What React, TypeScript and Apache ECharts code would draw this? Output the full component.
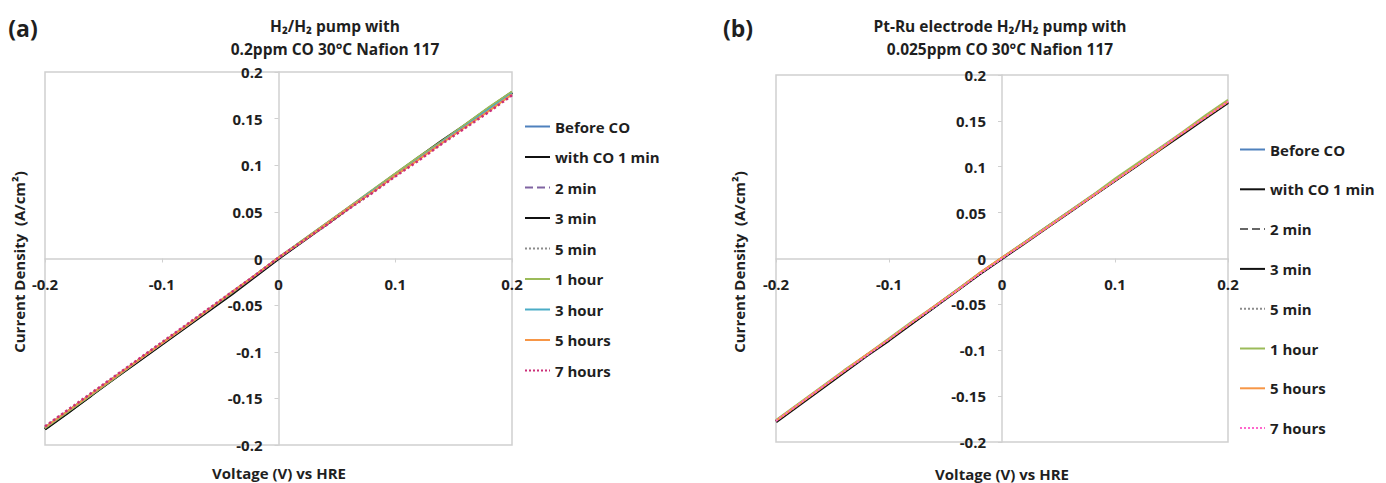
import React, { useEffect, useRef } from "react";
import * as echarts from "echarts";

// ---- Data ----
const voltages = [-0.2, -0.18, -0.16, -0.14, -0.12, -0.1, -0.08, -0.06, -0.04, -0.02, 0, 0.02, 0.04, 0.06, 0.08, 0.1, 0.12, 0.14, 0.16, 0.18, 0.2];

// Panel (a): 0.2 ppm CO
const aBefore = [-0.181, -0.163, -0.145, -0.127, -0.109, -0.091, -0.073, -0.055, -0.037, -0.019, 0.0, 0.018, 0.036, 0.054, 0.071, 0.089, 0.107, 0.124, 0.142, 0.159, 0.176];
const aCo1 = [-0.183, -0.165, -0.147, -0.128, -0.110, -0.092, -0.074, -0.056, -0.038, -0.019, 0.0, 0.018, 0.036, 0.054, 0.072, 0.090, 0.108, 0.125, 0.143, 0.161, 0.178];
const a2min = [-0.182, -0.164, -0.146, -0.128, -0.110, -0.091, -0.073, -0.055, -0.037, -0.019, 0.0, 0.018, 0.036, 0.054, 0.072, 0.090, 0.107, 0.125, 0.143, 0.160, 0.178];
const a3min = [-0.183, -0.165, -0.146, -0.128, -0.110, -0.092, -0.074, -0.056, -0.038, -0.019, 0.0, 0.018, 0.036, 0.054, 0.072, 0.090, 0.108, 0.126, 0.143, 0.161, 0.178];
const a5min = [-0.182, -0.164, -0.146, -0.127, -0.109, -0.091, -0.073, -0.055, -0.037, -0.018, 0.0, 0.018, 0.036, 0.054, 0.072, 0.089, 0.107, 0.125, 0.142, 0.160, 0.177];
const a1h = [-0.182, -0.164, -0.146, -0.128, -0.109, -0.091, -0.073, -0.055, -0.037, -0.018, 0.001, 0.019, 0.037, 0.055, 0.073, 0.091, 0.109, 0.126, 0.144, 0.162, 0.179];
const a3h = [-0.181, -0.163, -0.145, -0.127, -0.109, -0.091, -0.073, -0.055, -0.036, -0.018, 0.001, 0.018, 0.036, 0.054, 0.072, 0.089, 0.107, 0.125, 0.142, 0.160, 0.177];
const a5h = [-0.181, -0.163, -0.145, -0.127, -0.109, -0.091, -0.073, -0.055, -0.036, -0.018, 0.001, 0.018, 0.036, 0.054, 0.071, 0.089, 0.106, 0.124, 0.141, 0.158, 0.176];
const a7h = [-0.180, -0.162, -0.144, -0.126, -0.108, -0.090, -0.072, -0.054, -0.036, -0.018, 0.001, 0.018, 0.035, 0.053, 0.070, 0.088, 0.105, 0.123, 0.140, 0.157, 0.175];

// Panel (b): 0.025 ppm CO, Pt-Ru electrode
const bBefore = [-0.177, -0.159, -0.141, -0.123, -0.106, -0.088, -0.070, -0.053, -0.035, -0.017, 0.0, 0.017, 0.034, 0.051, 0.068, 0.085, 0.102, 0.120, 0.137, 0.154, 0.171];
const bCo1 = [-0.177, -0.159, -0.142, -0.124, -0.106, -0.088, -0.071, -0.053, -0.035, -0.017, 0.0, 0.017, 0.034, 0.051, 0.068, 0.085, 0.102, 0.119, 0.137, 0.154, 0.171];
const b2min = [-0.177, -0.159, -0.141, -0.123, -0.105, -0.088, -0.070, -0.052, -0.035, -0.016, 0.001, 0.017, 0.034, 0.051, 0.068, 0.085, 0.102, 0.120, 0.137, 0.154, 0.171];
const b3min = [-0.178, -0.160, -0.142, -0.124, -0.106, -0.089, -0.071, -0.053, -0.035, -0.017, 0.0, 0.017, 0.034, 0.051, 0.068, 0.085, 0.102, 0.119, 0.136, 0.153, 0.170];
const b5min = [-0.177, -0.159, -0.141, -0.123, -0.106, -0.088, -0.070, -0.053, -0.035, -0.017, 0.0, 0.017, 0.034, 0.051, 0.068, 0.085, 0.103, 0.120, 0.137, 0.154, 0.171];
const b1h = [-0.176, -0.158, -0.140, -0.122, -0.105, -0.087, -0.069, -0.052, -0.034, -0.016, 0.001, 0.018, 0.035, 0.052, 0.069, 0.087, 0.104, 0.121, 0.138, 0.156, 0.173];
const b5h = [-0.177, -0.159, -0.141, -0.123, -0.105, -0.088, -0.070, -0.052, -0.035, -0.016, 0.001, 0.017, 0.034, 0.051, 0.068, 0.085, 0.102, 0.119, 0.137, 0.154, 0.171];
const b7h = [-0.177, -0.159, -0.141, -0.123, -0.106, -0.088, -0.070, -0.053, -0.035, -0.017, 0.0, 0.017, 0.034, 0.051, 0.068, 0.085, 0.102, 0.120, 0.137, 0.154, 0.171];

const xTicks = [-0.2, -0.1, 0, 0.1, 0.2];

const FONT = "'Open Sans', 'DejaVu Sans', sans-serif";
const TXT = "#1f1f1f";
const AXIS = "#d0d0d0";

const GRID_A = { left: 45, top: 72, width: 467, height: 373 };
const GRID_B = { left: 776, top: 75, width: 452, height: 367 };

function pts(ys: number[]) {
  return voltages.map((v, i) => [v, ys[i]]);
}

type S = { name: string; data: number[]; color: string; type: string; width: number };

const seriesA: S[] = [
  { name: "Before CO", data: aBefore, color: "#4f81bd", type: "solid", width: 2 },
  { name: "with CO 1 min", data: aCo1, color: "#111111", type: "solid", width: 2 },
  { name: "2 min", data: a2min, color: "#8064a2", type: "dashed", width: 2 },
  { name: "3 min", data: a3min, color: "#111111", type: "solid", width: 3 },
  { name: "5 min", data: a5min, color: "#8c8c8c", type: "dotted", width: 1.5 },
  { name: "1 hour", data: a1h, color: "#9bbb59", type: "solid", width: 2 },
  { name: "3 hour", data: a3h, color: "#4bacc6", type: "solid", width: 2 },
  { name: "5 hours", data: a5h, color: "#f79646", type: "solid", width: 2 },
  { name: "7 hours", data: a7h, color: "#cc2f78", type: "dotted", width: 2.5 },
];

const seriesB: S[] = [
  { name: "Before CO", data: bBefore, color: "#4f81bd", type: "solid", width: 2 },
  { name: "with CO 1 min", data: bCo1, color: "#111111", type: "solid", width: 2 },
  { name: "2 min", data: b2min, color: "#666666", type: "dashed", width: 1.5 },
  { name: "3 min", data: b3min, color: "#111111", type: "solid", width: 3 },
  { name: "5 min", data: b5min, color: "#8c8c8c", type: "dotted", width: 1.5 },
  { name: "1 hour", data: b1h, color: "#9bbb59", type: "solid", width: 2 },
  { name: "5 hours", data: b5h, color: "#f79646", type: "solid", width: 2 },
  { name: "7 hours", data: b7h, color: "#ff66cc", type: "dotted", width: 2 },
];

const PREFIX_B = "(b) ";

function mkSeries(list: S[], idx: number, prefix: string) {
  return list.map((s) => ({
    type: "line",
    name: prefix + s.name,
    xAxisIndex: idx,
    yAxisIndex: idx,
    data: pts(s.data),
    showSymbol: false,
    symbol: "none",
    lineStyle: { color: s.color, type: s.type, width: s.width },
    itemStyle: { color: s.color },
    z: 3,
  }));
}

function xAxisCfg(gridIndex: number, g: { height: number }) {
  return {
    type: "value",
    gridIndex,
    position: "bottom",
    offset: -g.height / 2,
    min: -0.2,
    max: 0.2,
    interval: 0.1,
    axisLine: { onZero: false, lineStyle: { color: AXIS, width: 1.5 } },
    axisTick: { show: true, length: 4, lineStyle: { color: AXIS } },
    axisLabel: {
      color: TXT,
      fontFamily: FONT,
      fontWeight: "bold",
      fontSize: 15,
      margin: 18,
      formatter: (v: number) => {
        const t = xTicks.find((k) => Math.abs(k - v) < 1e-9);
        return t === undefined ? "" : String(t);
      },
    },
    splitLine: { show: false },
  };
}

function yAxisCfg(gridIndex: number, g: { width: number }) {
  return {
    type: "value",
    gridIndex,
    position: "left",
    offset: -g.width / 2,
    min: -0.2,
    max: 0.2,
    interval: 0.05,
    axisLine: { onZero: false, lineStyle: { color: AXIS, width: 1.5 } },
    axisTick: { show: true, length: 4, lineStyle: { color: AXIS } },
    axisLabel: {
      color: TXT,
      fontFamily: FONT,
      fontWeight: "bold",
      fontSize: 15,
      margin: 16,
      formatter: (v: number) => String(Math.round(v * 1000) / 1000),
    },
    splitLine: { show: false },
  };
}

function txt(x: number, y: number, text: string, size: number, extra: any = {}) {
  return {
    type: "text",
    x,
    y,
    style: {
      text,
      fill: TXT,
      font: `bold ${size}px ${FONT}`,
      textAlign: "center",
      textVerticalAlign: "middle",
    },
    ...extra,
  };
}

const legendCommon = {
  orient: "vertical",
  itemWidth: 25,
  itemHeight: 14,
  textStyle: { color: TXT, fontFamily: FONT, fontWeight: "bold", fontSize: 15 },
  itemStyle: { opacity: 0 },
  selectedMode: false,
};

export default function App() {
  const ref = useRef<HTMLDivElement>(null);
  useEffect(() => {
    document.body.style.margin = "0";
    const chart = echarts.init(ref.current!, undefined, { renderer: "svg" });
    chart.setOption({
      animation: false,
      backgroundColor: "#ffffff",
      grid: [
        { ...GRID_A, show: true, borderColor: AXIS, borderWidth: 1.5, backgroundColor: "transparent" },
        { ...GRID_B, show: true, borderColor: AXIS, borderWidth: 1.5, backgroundColor: "transparent" },
      ],
      xAxis: [xAxisCfg(0, GRID_A), xAxisCfg(1, GRID_B)],
      yAxis: [yAxisCfg(0, GRID_A), yAxisCfg(1, GRID_B)],
      legend: [
        {
          ...legendCommon,
          left: 519,
          top: 114,
          itemGap: 15.5,
          data: seriesA.map((s) => s.name),
        },
        {
          ...legendCommon,
          left: 1234,
          top: 137,
          itemGap: 24.8,
          data: seriesB.map((s) => PREFIX_B + s.name),
          formatter: (n: string) => n.replace(PREFIX_B, ""),
        },
      ],
      series: [...mkSeries(seriesA, 0, ""), ...mkSeries(seriesB, 1, PREFIX_B)],
      graphic: [
        txt(23, 28, "(a)", 23),
        txt(738, 28, "(b)", 23),
        txt(335, 26, "H\u2082/H\u2082 pump with", 15.5),
        txt(335, 49, "0.2ppm CO 30\u00B0C Nafion 117", 15.5),
        txt(1000, 26, "Pt-Ru electrode H\u2082/H\u2082 pump with", 15.5),
        txt(1000, 49, "0.025ppm CO 30\u00B0C Nafion 117", 15.5),
        txt(19, 262, "Current Density  (A/cm\u00B2)", 15, { rotation: Math.PI / 2 }),
        txt(739, 262, "Current Density  (A/cm\u00B2)", 15, { rotation: Math.PI / 2 }),
        txt(279, 473, "Voltage (V) vs HRE", 15),
        txt(1002, 474, "Voltage (V) vs HRE", 15),
      ],
    });
    return () => chart.dispose();
  }, []);
  return <div ref={ref} style={{ width: 1386, height: 483 }} />;
}
